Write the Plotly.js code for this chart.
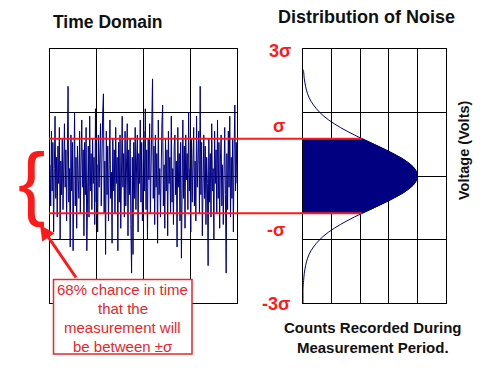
<!DOCTYPE html>
<html>
<head>
<meta charset="utf-8">
<script src="https://cdn.plot.ly/plotly-3.0.1.min.js"></script>
<style>html,body{margin:0;padding:0;background:#fff;}#chart{width:480px;height:371px;}</style>
</head>
<body>
<div id="chart"></div>
<script>
// Time-domain noise samples (in units of sigma)
var noiseValues = [
 0.3,-0.8,1.2,-0.4,0.9,-1.5,0.2,1.6,-0.6,0.5,-1.1,0.8,-0.2,1.3,-1.7,0.4,-0.5,1.0,-0.9,0.1,
 1.4,-0.3,0.7,-1.2,0.6,2.4,-0.7,0.2,-1.9,1.1,-0.4,0.9,-2.0,0.3,1.7,-0.8,0.5,-1.4,0.8,-0.1,
 -0.6,1.2,-1.0,0.4,1.5,-0.3,0.7,-1.6,0.9,-0.5,1.3,-2.0,0.2,0.8,-1.1,1.6,-0.4,0.6,-0.9,1.0,
 -0.2,0.5,-1.3,1.8,-0.7,0.3,-1.5,1.1,-0.3,0.6,1.4,-0.8,0.9,1.7,2.2,-1.0,0.4,-2.1,1.2,-0.5,
 0.8,-1.2,0.3,1.5,-0.6,0.1,-1.8,1.0,-0.4,0.7,-1.0,1.3,-0.2,0.5,-2.0,0.9,-0.7,1.1,-1.4,0.4,
 1.6,-0.3,0.6,-1.1,1.2,-0.8,0.2,1.4,-1.6,0.7,-0.5,1.0,-1.3,-2.6,0.5,-2.1,0.9,-0.6,1.3,-0.9,
 0.4,1.1,-1.5,0.6,-0.2,1.5,-0.7,0.9,-1.2,0.3,1.2,-0.4,1.8,-0.9,0.7,-1.7,1.0,-0.1,1.4,-1.0,
 0.5,1.3,2.6,-0.6,0.8,-1.3,1.1,-0.3,0.6,-1.8,1.5,-0.5,0.2,-1.1,0.9,1.4,1.9,-0.8,0.3,-1.4,
 1.0,-0.4,0.7,-1.6,1.2,-0.2,0.5,-1.0,1.6,-0.7,0.2,-1.3,0.8,1.1,-0.5,0.4,-1.9,1.3,-0.3,0.6,
 -1.2,0.9,-2.2,0.3,1.5,-0.6,0.8,-1.4,1.1,-0.1,0.6,-0.9,1.7,-0.4,0.2,-1.5,1.0,-0.7,0.5,1.3,
 -0.8,0.4,-1.2,1.6,-0.3,0.7,1.2,-1.0,2.4,-0.5,0.9,-1.6,0.3,1.1,-0.6,0.8,-1.3,0.5,-0.2,-2.4,
 1.0,-0.7,0.6,-1.1,1.4,-0.4,0.2,-1.7,1.2,-0.2,0.7,-1.0,1.5,-0.6,0.9,-1.4,0.4,1.1,-0.8,0.3,
 -1.3,0.8,1.3,-0.5,-2.6,0.6,-0.9,1.2,-0.3,1.6,-1.1,0.5,-0.6,1.0,-1.5,0.7,1.9,-0.4,0.9,-0.2
];
// Distribution of noise: voltage (sigma units) vs counts
var distVoltage = [-3.4,-3.2,-3.0,-2.9,-2.8,-2.6,-2.4,-2.2,-2.0,-1.8,-1.6,-1.4,-1.2,-1.0,-0.8,-0.6,-0.4,-0.2,0,0.2,0.4,0.6,0.8,1.0,1.2,1.4,1.6,1.8,2.0,2.2,2.4,2.6,2.8,2.85];
var distCounts  = [0,0,0,0.01,0.022,0.045,0.09,0.16,0.28,0.47,0.73,1.09,1.54,2.06,2.62,3.15,3.6,3.9,4.0,3.9,3.6,3.15,2.62,2.06,1.54,1.09,0.73,0.47,0.28,0.16,0.09,0.045,0.02,0];
var sigmaLevels = [1, -1];
var sigmaLabels = ['3σ', 'σ', '-σ', '-3σ'];
var titles = ['Time Domain', 'Distribution of Noise'];
var yLabel = 'Voltage (Volts)';
var xLabel = 'Counts Recorded During<br>Measurement Period.';
var noteLines = ['68% chance in time', 'that the', 'measurement will', 'be between ±σ'];

var navy = '#000080';
var red = '#ff1a1a';
var noteRed = '#e8262b';
var FONT = 'Liberation Sans, Arial, sans-serif';

var fillV = [], fillC = [];
for (var i = 0; i < distVoltage.length; i++) {
  if (distVoltage[i] >= -1 && distVoltage[i] <= 1) { fillV.push(distVoltage[i]); fillC.push(distCounts[i]); }
}
function countAt(v){ var k = distVoltage.indexOf(v); return distCounts[k]; }

var traces = [
  {y: noiseValues, type: 'scatter', mode: 'lines', line: {color: navy, width: 1}, xaxis: 'x', yaxis: 'y', hoverinfo: 'skip'},
  {x: fillC, y: fillV, type: 'scatter', mode: 'lines', fill: 'tozerox', fillcolor: navy, line: {color: navy, width: 1, shape: 'spline'}, xaxis: 'x2', yaxis: 'y2', hoverinfo: 'skip'},
  {x: distCounts, y: distVoltage, type: 'scatter', mode: 'lines', line: {color: navy, width: 1, shape: 'spline'}, xaxis: 'x2', yaxis: 'y2', hoverinfo: 'skip'}
];

var axBase = {showticklabels: false, ticks: '', showgrid: true, gridcolor: '#000', gridwidth: 1, zeroline: false, showline: true, linecolor: '#000', linewidth: 1, mirror: true, fixedrange: true};
function ax(extra){ var o = {}; for (var k in axBase) o[k] = axBase[k]; for (var k2 in extra) o[k2] = extra[k2]; return o; }

var W = 480, H = 371, L = 50, R = 34, T = 49, B = 68;
var pw = W - L - R, ph = H - T - B;
function px(p){ return (p - L) / pw; }
function py(p){ return (H - B - p) / ph; }

var x2start = px(303);
var shapes = [];
sigmaLevels.forEach(function(s){
  shapes.push({type: 'line', xref: 'paper', yref: 'y', x0: px(49), x1: x2start, y0: s, y1: s, line: {color: red, width: 2}});
  shapes.push({type: 'line', xref: 'x2', yref: 'y2', x0: 0, x1: countAt(s), y0: s, y1: s, line: {color: red, width: 2}});
});
// note box
shapes.push({type: 'rect', xref: 'paper', yref: 'paper', x0: px(53.5), x1: px(192), y0: py(279.5), y1: py(354), fillcolor: '#fff', line: {color: noteRed, width: 1.5}, layer: 'above'});

var annotations = [
  {text: '<b>' + titles[0] + '</b>', x: px(108), y: py(22), xref: 'paper', yref: 'paper', showarrow: false, font: {family: FONT, size: 17.5, color: '#111'}, xanchor: 'center', yanchor: 'middle'},
  {text: '<b>' + titles[1] + '</b>', x: px(366.5), y: py(17), xref: 'paper', yref: 'paper', showarrow: false, font: {family: FONT, size: 18, color: '#111'}, xanchor: 'center', yanchor: 'middle'},
  {text: '<b>' + sigmaLabels[0] + '</b>', x: px(279.5), y: py(51.5), xref: 'paper', yref: 'paper', showarrow: false, font: {family: FONT, size: 18, color: red}, xanchor: 'center', yanchor: 'middle'},
  {text: '<b>' + sigmaLabels[1] + '</b>', x: px(278.5), y: py(126), xref: 'paper', yref: 'paper', showarrow: false, font: {family: FONT, size: 18, color: red}, xanchor: 'center', yanchor: 'middle'},
  {text: '<b>' + sigmaLabels[2] + '</b>', x: px(276), y: py(230), xref: 'paper', yref: 'paper', showarrow: false, font: {family: FONT, size: 18, color: red}, xanchor: 'center', yanchor: 'middle'},
  {text: '<b>' + sigmaLabels[3] + '</b>', x: px(275.5), y: py(303.5), xref: 'paper', yref: 'paper', showarrow: false, font: {family: FONT, size: 18, color: red}, xanchor: 'center', yanchor: 'middle'},
  {text: '<b>' + yLabel + '</b>', x: px(463.5), y: py(149.5), xref: 'paper', yref: 'paper', showarrow: false, textangle: -90, font: {family: FONT, size: 14.5, color: '#111'}, xanchor: 'center', yanchor: 'middle'},
  {text: '<b>' + xLabel + '</b>', x: px(372.5), y: py(337.5), xref: 'paper', yref: 'paper', showarrow: false, align: 'center', font: {family: FONT, size: 15, color: '#111'}, xanchor: 'center', yanchor: 'middle'},
  {text: '', x: px(40), y: py(225), xref: 'paper', yref: 'paper', showarrow: true, ax: 37, ay: 54, arrowhead: 2, arrowsize: 1, arrowwidth: 3, arrowcolor: red},
  {text: '{', x: px(31), y: py(181), xref: 'paper', yref: 'paper', showarrow: false, font: {family: FONT, size: 82, color: red}, xanchor: 'center', yanchor: 'middle'}
];
var noteY = [289.5, 308.5, 327.5, 346];
noteLines.forEach(function(t, k){
  annotations.push({text: t, x: px(122.5), y: py(noteY[k]), xref: 'paper', yref: 'paper', showarrow: false, font: {family: FONT, size: 15, color: noteRed}, xanchor: 'center', yanchor: 'middle'});
});

var layout = {
  width: W, height: H,
  margin: {l: L, r: R, t: T, b: B, pad: 0},
  paper_bgcolor: '#fff', plot_bgcolor: '#fff',
  showlegend: false,
  xaxis: ax({domain: [0, px(237)], range: [0, noiseValues.length - 1], tick0: 0, dtick: (noiseValues.length - 1) / 4, anchor: 'y'}),
  yaxis: ax({domain: [0, 1], range: [-3.4, 3.4], tick0: 0, dtick: 1.7, anchor: 'x'}),
  xaxis2: ax({domain: [x2start, 1], range: [0, 5], tick0: 0, dtick: 1, anchor: 'y2'}),
  yaxis2: ax({domain: [0, 1], range: [-3.4, 3.4], tick0: 0, dtick: 1.7, anchor: 'x2'}),
  shapes: shapes,
  annotations: annotations
};

Plotly.newPlot('chart', traces, layout, {displayModeBar: false, staticPlot: true});
</script>
</body>
</html>
